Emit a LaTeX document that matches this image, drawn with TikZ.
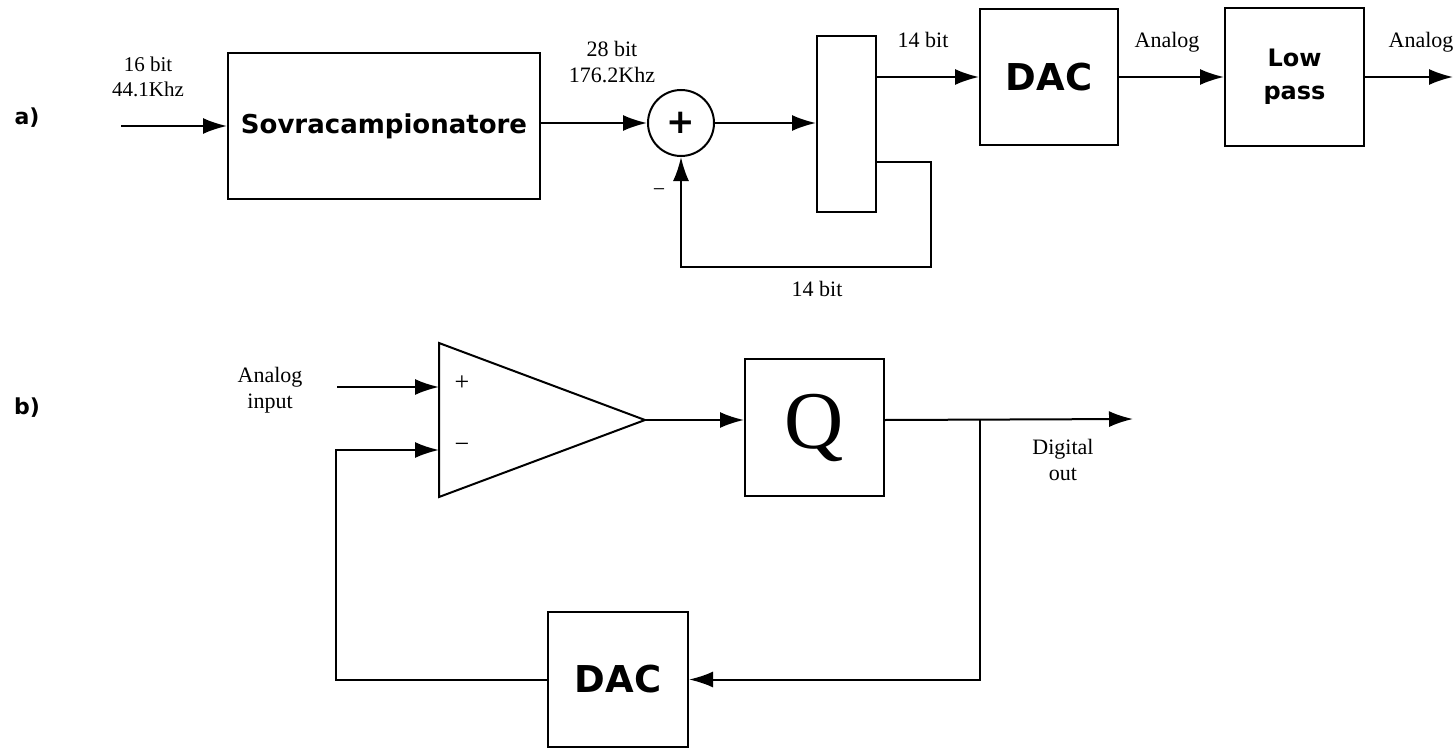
\documentclass[tikz,border=0pt]{standalone}
\usepackage{fontspec}
\setmainfont{Liberation Serif}
\newfontfamily\blocksans{DejaVu Sans}
\usetikzlibrary{arrows.meta, calc}

\begin{document}
\begin{tikzpicture}[x=1pt, y=-1pt, line width=2pt,
    block/.style={draw, inner sep=0pt, font=\blocksans\bfseries\fontsize{37}{40}\selectfont},
    lbl/.style={align=center, inner sep=0pt, font=\fontsize{22}{26}\selectfont},
    tag/.style={inner sep=0pt, font=\blocksans\bfseries\fontsize{22}{24}\selectfont},
    flow/.style={-{Latex[length=24pt, width=16pt]}}]
    \clip (0,0) rectangle (1453,749);
    \fill[white] (0,0) rectangle (1453,749);

    % a) oversampling chain
    \node[tag] (tagA) at (27,118) {a)};
    \node[block, minimum width=312pt, minimum height=146pt,
      font=\blocksans\bfseries\fontsize{26}{30}\selectfont] (sovra) at (384,126) {Sovracampionatore};
    \node[draw, circle, minimum size=66pt, inner sep=0pt,
      font=\blocksans\bfseries\fontsize{34}{34}\selectfont] (sum) at (681,123) {+};
    \node[draw, minimum width=59pt, minimum height=176pt] (trunc) at (846.5,124) {};
    \node[block, minimum width=138pt, minimum height=136pt] (dacA) at (1049,77) {DAC};
    \node[block, minimum width=139pt, minimum height=137pt, align=center,
      font=\blocksans\bfseries\fontsize{24}{33}\selectfont] (lowpass) at (1294.5,77) {Low\\pass};

    \coordinate (inA) at (121,126);
    \coordinate (fbA) at (931,267);
    \coordinate (outA) at (1453,77);
    \draw[flow] (inA) -- (sovra.west);
    \draw[flow] (sovra.east |- sum.west) -- (sum.west);
    \draw[flow] (sum.east) -- (sum.east -| trunc.west);
    \draw[flow] (trunc.east |- dacA.west) -- (dacA.west);
    \draw[flow] ([yshift=51pt]trunc.south east) -| (fbA) -| (sum.south);
    \draw[flow] (dacA.east) -- (lowpass.west);
    \draw[flow] (lowpass.east) -- (outA);

    \node[lbl, font=\fontsize{21}{25}\selectfont] (inLbl) at (148,77) {16 bit\\44.1Khz};
    \node[lbl] (sovraLbl) at (612,62) {28 bit\\176.2Khz};
    \node[lbl] (minusA) at (659,193) {−};
    \node[lbl] (fbLbl) at (817,289) {14 bit};
    \node[lbl] (truncLbl) at (923,40) {14 bit};
    \node[lbl] (dacLbl) at (1167,42) {Analog};
    \node[lbl] (lpLbl) at (1421,42) {Analog};

    % b) sigma-delta loop
    \node[tag] (tagB) at (27,408) {b)};
    \coordinate (ampTop) at (439,343);
    \coordinate (ampBot) at (439,497);
    \coordinate (ampOut) at (645,420);
    \coordinate (ampPlus) at (439,387);
    \coordinate (ampMinus) at (439,450);
    \draw[line join=miter] (ampTop) -- (ampOut) -- (ampBot) -- cycle;
    \node[lbl, font=\fontsize{26}{26}\selectfont] (plusB) at (462,383) {+};
    \node[lbl, font=\fontsize{26}{26}\selectfont] (minusB) at (462,448) {−};
    \node[block, minimum width=139pt, minimum height=137pt,
      font=\fontsize{82}{82}\selectfont] (quant) at (814.5,427.5) {Q};
    \node[block, minimum width=140pt, minimum height=135pt] (dacB) at (618,679.5) {DAC};

    \coordinate (inB) at (337,387);
    \coordinate (tap) at (980,419);
    \coordinate (outB) at (1133,419);
    \coordinate (fbB) at (336,450);
    \draw[flow] (inB) -- (ampPlus);
    \draw[flow] (ampOut) -- (ampOut -| quant.west);
    \draw[flow] (quant.east |- ampOut) -- (outB);
    \draw[flow] (tap) |- (dacB.east);
    \draw[flow] (dacB.west) -| (fbB) -- (ampMinus);

    \node[lbl] (inBLbl) at (270,390) {Analog\\input};
    \node[lbl] (outLbl) at (1063,460) {Digital\\out};
  \end{tikzpicture}
\end{document}
